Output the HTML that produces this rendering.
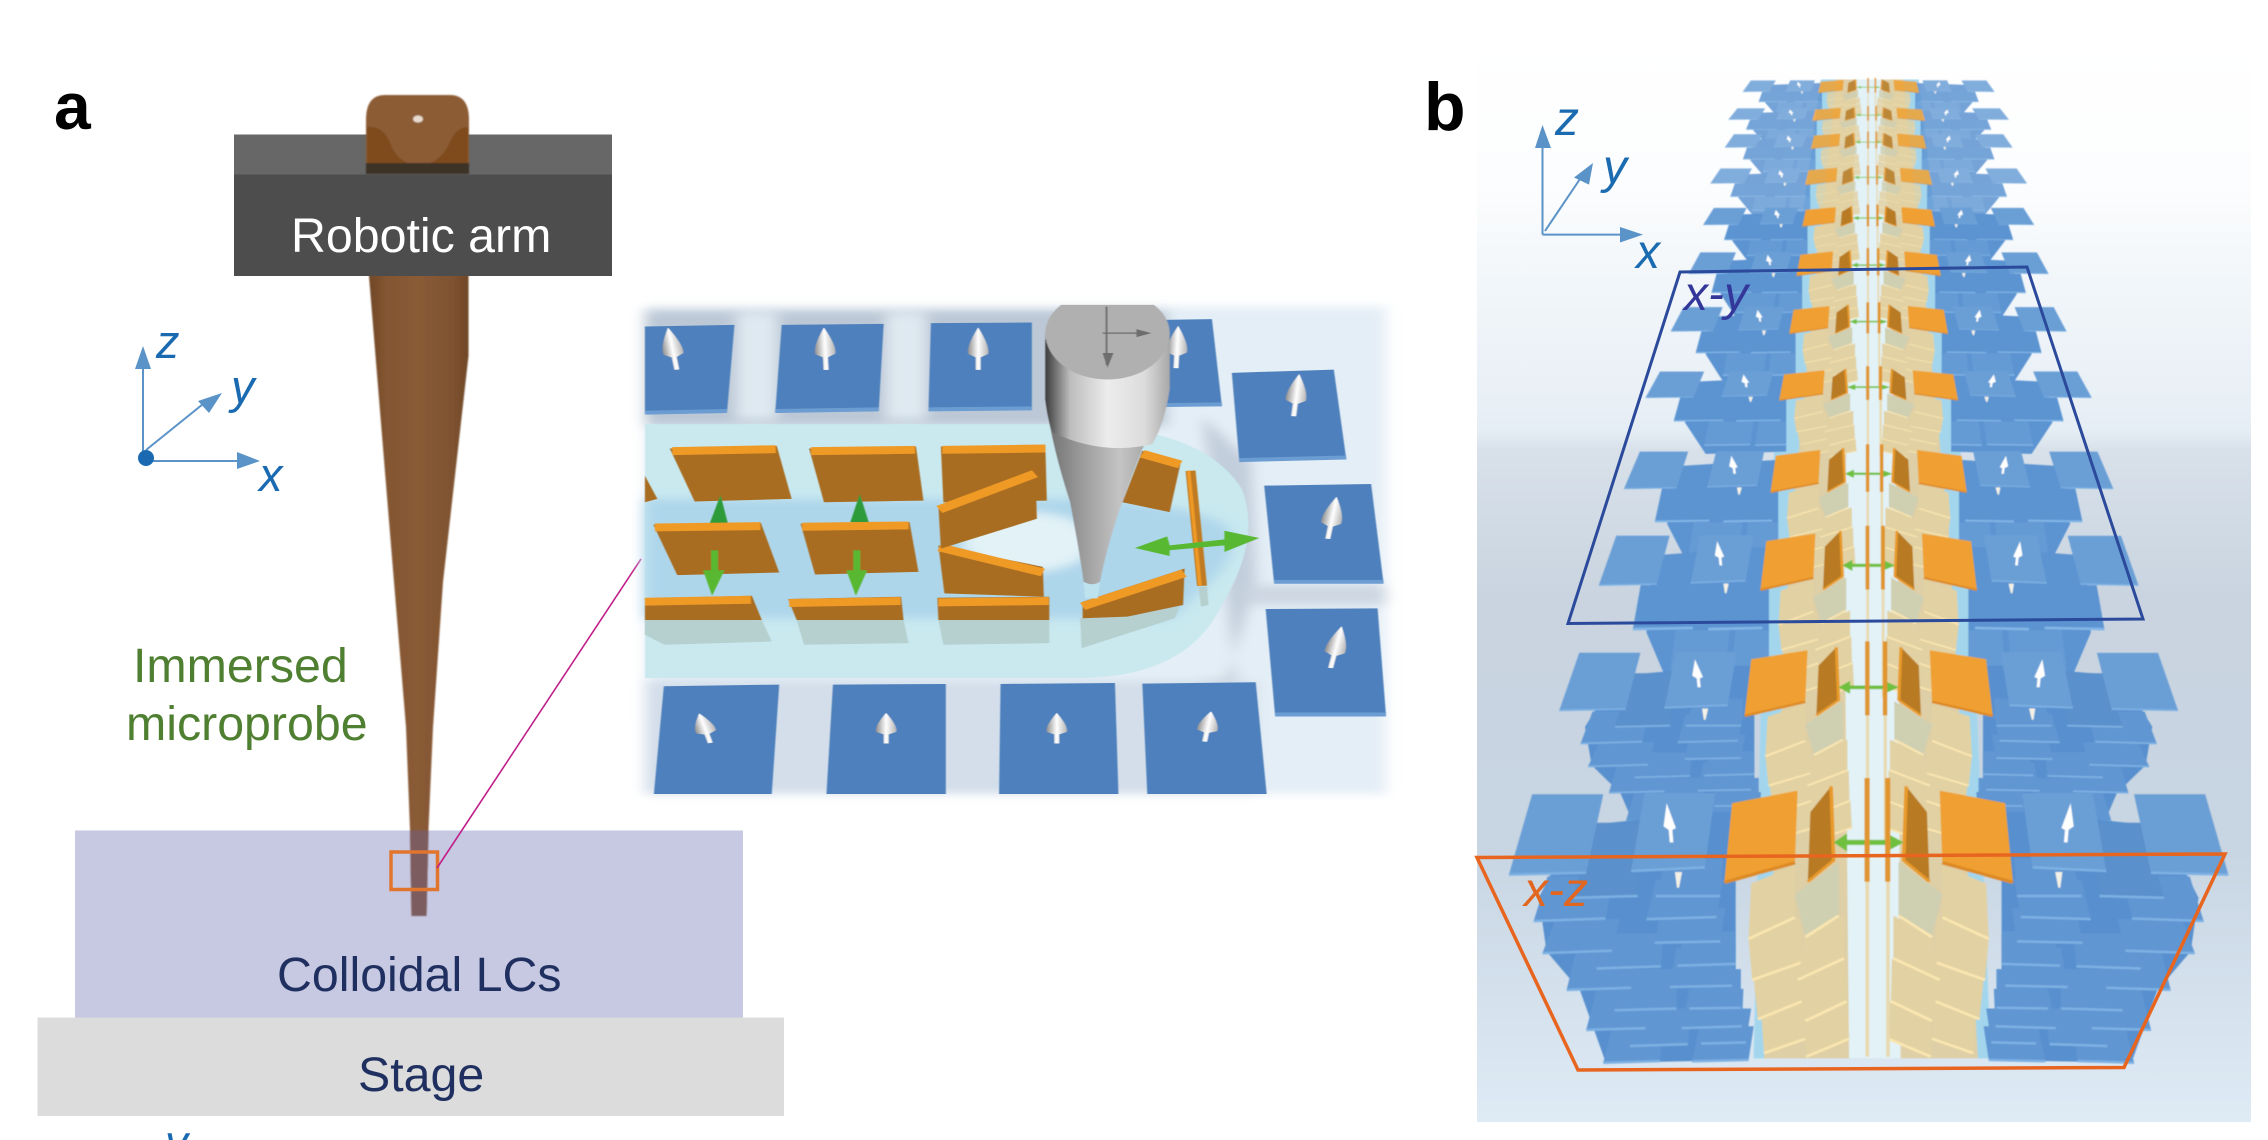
<!DOCTYPE html>
<html><head><meta charset="utf-8"><style>
html,body{margin:0;padding:0;background:#fff;width:2268px;height:1140px;overflow:hidden}
svg{display:block}
text{font-family:"Liberation Sans",sans-serif}
.b{fill:#6096d2}.bl{stroke:#7db1e3;stroke-width:7;fill:none}
.c{fill:#e2d1a3}.cl{stroke:#fae6b0;stroke-width:7;fill:none}
.blu{fill:#4e80bc}.blip{stroke:#6c9dd2;stroke-width:12;fill:none}
.or{fill:#a96d20}.orl{stroke:#f09a28;stroke-width:24;fill:none}
</style></head><body>
<svg width="2268" height="1140" viewBox="0 0 2268 1140" xmlns="http://www.w3.org/2000/svg">
<defs>
<filter id="s1" x="-5%" y="-5%" width="110%" height="110%"><feGaussianBlur stdDeviation="1.2"/></filter>
<filter id="s2" x="-10%" y="-10%" width="120%" height="120%"><feGaussianBlur stdDeviation="14"/></filter>
<filter id="s0" x="-5%" y="-5%" width="110%" height="110%"><feGaussianBlur stdDeviation="0.7"/></filter>
<filter id="s3" x="-5%" y="-5%" width="110%" height="110%"><feGaussianBlur stdDeviation="1.2"/></filter>
<clipPath id="toolclip"><rect x="800" y="45" width="320" height="900"/></clipPath>
<linearGradient id="probe" x1="0" x2="1" y1="0" y2="0"><stop offset="0" stop-color="#6f4727"/><stop offset=".18" stop-color="#845631"/><stop offset=".5" stop-color="#8a5b36"/><stop offset=".85" stop-color="#7e5230"/><stop offset="1" stop-color="#6f4727"/></linearGradient>
<linearGradient id="bgb" x1="0" x2="0" y1="0" y2="1">
<stop offset="0" stop-color="#ffffff"/><stop offset=".13" stop-color="#fcfdfe"/><stop offset=".24" stop-color="#f0f5f9"/><stop offset=".36" stop-color="#e6eef5"/><stop offset=".379" stop-color="#d8e1ea"/><stop offset=".517" stop-color="#c9d4e0"/><stop offset=".75" stop-color="#c8d5e2"/><stop offset=".89" stop-color="#d5e2ee"/><stop offset="1" stop-color="#deebf5"/></linearGradient>
<linearGradient id="cyl" x1="0" x2="1" y1="0" y2="0"><stop offset="0" stop-color="#3c3c3c"/><stop offset=".2" stop-color="#bdbdbd"/><stop offset=".5" stop-color="#ececec"/><stop offset=".8" stop-color="#dcdcdc"/><stop offset="1" stop-color="#a8a8a8"/></linearGradient>
<linearGradient id="con" x1="0" x2="1" y1="0" y2="0"><stop offset="0" stop-color="#6e6e6e"/><stop offset=".3" stop-color="#9c9c9c"/><stop offset=".6" stop-color="#c4c4c4"/><stop offset="1" stop-color="#8e8e8e"/></linearGradient>
<linearGradient id="cone" x1="0" x2="1" y1="0" y2="0"><stop offset="0" stop-color="#8f8f8f"/><stop offset=".5" stop-color="#ffffff"/><stop offset="1" stop-color="#b5b5b5"/></linearGradient>
<path id="ar" d="M0,-62 Q24,-5 20,18 L5,28 L5,66 L-5,66 L-5,28 L-20,18 Q-24,-5 0,-62Z" fill="url(#cone)"/>
<g id="cream">
<polygon class="c" points="-203,735 -123,695 -128,590 -208,630"/><path class="cl" d="M-203,735 -123,695"/>
<polygon class="c" points="-215,640 -121,585 -128,480 -223,530"/><path class="cl" d="M-215,640 -121,585"/>
<polygon class="c" points="-226,530 -128,480 -133,355 -233,415"/><path class="cl" d="M-226,530 -128,480"/>
<polygon class="c" points="-233,415 -143,355 -143,210 -228,260"/><path class="cl" d="M-233,415 -143,355"/>
<polygon class="c" points="-121,745 -38,695 -41,590 -123,645"/><path class="cl" d="M-121,745 -38,695"/>
<polygon class="c" points="-123,645 -43,590 -45,470 -138,530"/><path class="cl" d="M-123,645 -43,590"/>
<polygon class="c" points="-138,530 -48,470 -48,350 -123,410"/><path class="cl" d="M-138,530 -48,470"/>
<polygon fill="#cfcfb2" points="-143,290 -58,200 -58,350 -123,410"/><path class="cl" d="M-123,410 -58,350"/>
</g>
<g id="top">
<polygon fill="#6a9fd6" points="-653,10 -515,10 -548,230 -698,235"/><path class="bl" d="M-698,235 -548,230"/>
<polygon fill="#6a9fd6" points="-435,7 -298,7 -318,215 -461,225"/><path class="bl" d="M-461,225 -318,215"/>
<polygon fill="#fff" points="-392,35 -374,105 -381,110 -379,145 -386,145 -388,110 -398,100"/>
<polygon fill="#f4f1e6" points="-376,228 -362,228 -368,272 -372,272"/>
<polygon fill="#f0a030" points="-265,35 -138,0 -143,200 -280,255"/><path d="M-280,257 -143,202" stroke="#dd8a28" stroke-width="9" fill="none"/>
<polygon fill="#b87a24" points="-73,-12 -113,60 -118,255 -68,195"/><path d="M-73,-12 -68,195 -118,255" stroke="#e89a2c" stroke-width="7" fill="none"/>
</g>
<g id="mid">
<rect x="-6" y="255" width="7" height="490" fill="#e8d9ae"/><rect x="34" y="255" width="7" height="490" fill="#e8d9ae"/>
<path d="M-55,145 H55" stroke="#6fc040" stroke-width="14" fill="none"/>
<polygon fill="#6fc040" points="-68,145 -42,120 -42,170"/><polygon fill="#6fc040" points="68,145 42,125 42,165"/>
<rect x="-8" y="-35" width="10" height="290" fill="#e0952f"/><rect x="32" y="-35" width="10" height="290" fill="#e0952f"/>
</g>
<!-- front, detailed half row -->
<g id="rowL">
<use href="#cream"/>
<polygon fill="#5890cf" points="-570,100 -300,60 -258,60 -258,755 -510,762 -560,560 -625,450 -640,300"/>
<polygon class="b" points="-498,660 -398,660 -405,757 -515,762"/><path class="bl" d="M-515,762 -405,757"/>
<polygon class="b" points="-328,660 -223,660 -233,754 -343,758"/><path class="bl" d="M-343,758 -233,754"/>
<polygon class="b" points="-448,610 -343,610 -351,710 -463,715"/><path class="bl" d="M-463,715 -351,710"/>
<polygon class="b" points="-313,610 -228,610 -238,705 -325,708"/><path class="bl" d="M-325,708 -238,705"/>
<polygon class="b" points="-528,555 -423,555 -433,665 -548,670"/><path class="bl" d="M-548,670 -433,665"/>
<polygon class="b" points="-348,555 -243,555 -246,660 -363,665"/><path class="bl" d="M-363,665 -246,660"/>
<polygon class="b" points="-480,500 -373,500 -373,610 -493,615"/><path class="bl" d="M-493,615 -373,610"/>
<polygon class="b" points="-333,500 -248,500 -248,608 -348,610"/><path class="bl" d="M-348,610 -248,608"/>
<polygon class="b" points="-568,450 -453,450 -461,552 -586,558"/><path class="bl" d="M-586,558 -461,552"/>
<polygon class="b" points="-373,440 -258,440 -265,546 -386,550"/><path class="bl" d="M-386,550 -265,546"/>
<polygon class="b" points="-513,400 -398,400 -403,492 -528,498"/><path class="bl" d="M-528,498 -403,492"/>
<polygon class="b" points="-358,395 -258,395 -258,485 -371,490"/><path class="bl" d="M-371,490 -258,485"/>
<polygon class="b" points="-608,360 -483,360 -498,448 -633,455"/><path class="bl" d="M-633,455 -498,448"/>
<polygon class="b" points="-403,330 -278,330 -288,422 -415,426"/><path class="bl" d="M-415,426 -288,422"/>
<polygon class="b" points="-623,240 -493,240 -511,358 -650,365"/><path class="bl" d="M-650,365 -511,358"/>
<polygon class="b" points="-413,250 -283,250 -295,354 -431,360"/><path class="bl" d="M-431,360 -295,354"/>
<polygon fill="#5a90cb" points="-533,90 -433,90 -448,295 -573,300"/><path class="bl" d="M-573,300 -448,295"/>
<polygon class="b" points="-393,190 -283,190 -288,295 -413,295"/><path class="bl" d="M-413,295 -288,295"/>
<use href="#top"/>
</g>
<!-- rear, simplified half row with larger tiles -->
<g id="rowS">
<use href="#cream"/>
<polygon fill="#5b93d1" points="-560,100 -258,60 -258,700 -510,720 -575,450"/>
<polygon fill="#659bd5" points="-500,440 -360,440 -370,640 -515,645"/><path stroke="#83b6e6" stroke-width="12" fill="none" d="M-515,645 -370,640"/>
<polygon fill="#659bd5" points="-345,440 -258,440 -258,640 -355,645"/><path stroke="#83b6e6" stroke-width="12" fill="none" d="M-355,645 -258,640"/>
<polygon fill="#5c94d2" points="-590,235 -440,235 -455,430 -610,435"/><path stroke="#83b6e6" stroke-width="12" fill="none" d="M-610,435 -455,430"/>
<polygon fill="#5c94d2" points="-400,235 -265,235 -275,430 -415,435"/><path stroke="#83b6e6" stroke-width="12" fill="none" d="M-415,435 -275,430"/>
<use href="#top"/>
</g>
<g id="row"><use href="#rowL"/><use href="#rowL" transform="scale(-1,1)"/><use href="#mid"/></g>
<g id="rowR"><use href="#rowS"/><use href="#rowS" transform="scale(-1,1)"/><use href="#mid"/></g>
</defs>

<!-- Panel a -->
<text x="54" y="129" font-size="66" font-weight="bold" fill="#000">a</text>
<rect x="75" y="830.500" width="668" height="188" fill="#c7c8e2"/>
<rect x="37.500" y="1017.500" width="746.500" height="98.500" fill="#dcdcdc"/>
<rect x="234" y="134.500" width="378" height="40" fill="#676767"/>
<g filter="url(#s0)">
<path d="M366,120 Q366,95 385,95 L450,95 Q469,95 469,120 L469,173 L366,173Z" fill="#8c5c34"/>
<path d="M367,127 Q385,125 392,148 Q402,165 418,165 Q438,165 448,146 Q455,127 468,127 L468,165 L367,165Z" fill="#7f4c1e"/>
<rect x="366" y="163" width="103" height="11" fill="#3d3227"/>
<ellipse cx="418" cy="119" rx="5" ry="3.500" fill="#e8dccf"/>
<path d="M368.500,270 L468.500,270 L468.500,356 L443,582 L433,727 L428.500,829 L426.500,916 L411.500,916 L410,829 L406,727 L394,582Z" fill="url(#probe)"/>
<path d="M410,830.500 L428.500,830.500 L426.500,916 L411.500,916Z" fill="#7c5b5e"/>
</g>
<rect x="234" y="174.500" width="378" height="101.500" fill="#4d4d4d"/>
<rect x="391" y="852" width="46.500" height="37.500" fill="none" stroke="#e2752e" stroke-width="3.500"/>
<line x1="437" y1="868" x2="641" y2="559" stroke="#c0208a" stroke-width="1.600"/>
<text x="291" y="252" font-size="48.300" fill="#fff">Robotic arm</text>
<text x="133" y="682" font-size="48.300" fill="#4f7f31">Immersed</text>
<text x="126" y="740" font-size="48.300" fill="#4f7f31">microprobe</text>
<text x="277" y="991" font-size="48.300" fill="#1f2f5f">Colloidal LCs</text>
<text x="358" y="1091" font-size="48.300" fill="#1f2f5f">Stage</text>
<text x="165" y="1158" font-size="46" font-style="italic" fill="#1a6ab2">y</text>
<!-- axes a -->
<g stroke="#5a93c8" stroke-width="2" fill="none"><path d="M143,458 V365"/><path d="M146,450 L208,400"/><path d="M150,461 H240"/></g>
<polygon fill="#5a93c8" points="143,346 135,369 151,369"/>
<polygon fill="#5a93c8" points="222,393 198,401 209,413"/>
<polygon fill="#5a93c8" points="260,461 237,452 237,469"/>
<ellipse cx="146" cy="458" rx="8" ry="8" fill="#1a6ab2"/>
<text x="156" y="358" font-size="47" font-style="italic" fill="#1a6ab2">z</text>
<text x="231" y="403" font-size="47" font-style="italic" fill="#1a6ab2">y</text>
<text x="259" y="491" font-size="47" font-style="italic" fill="#1a6ab2">x</text>

<!-- Inset -->
<g transform="translate(630,290) scale(.4974,.3316)">
<g filter="url(#s2)">
<rect x="30" y="50" width="1490" height="1470" fill="#e4eef6"/>
<rect x="30" y="60" width="1050" height="350" fill="#bcc8d6"/>
<rect x="215" y="70" width="80" height="320" fill="#dfe9f1"/><rect x="515" y="70" width="80" height="320" fill="#dfe9f1"/>
<path d="M1150,380 L1250,520 L1260,880 L1200,1170 L1000,1200 L30,1200 L30,1300 L1230,1300 Z" fill="#c2cedb"/>
<rect x="30" y="1180" width="1230" height="340" fill="#d3deea"/>
<rect x="1240" y="890" width="280" height="60" fill="#cdd7e2"/>
</g>
<g filter="url(#s1)">
<path d="M30,405 L880,405 Q1150,410 1230,600 Q1270,750 1190,950 Q1120,1170 900,1170 L30,1170Z" fill="#c9e9ef"/>
</g>
<g filter="url(#s2)">
<path d="M30,630 L880,630 Q1100,630 1200,710 Q1230,780 1180,860 L1090,990 L30,990Z" fill="#aed6eb"/>
<ellipse cx="800" cy="760" rx="130" ry="90" fill="#e2f2f7"/>
</g>
<g filter="url(#s1)">
<!-- blue tiles -->
<polygon class="blu" points="30,110 210,105 195,370 30,375"/><path class="blip" d="M30,370 195,365"/>
<polygon class="blu" points="305,105 510,102 500,365 292,370"/><path class="blip" d="M292,365 500,360"/>
<polygon class="blu" points="605,100 808,98 808,362 600,365"/><path class="blip" d="M600,360 808,357"/>
<polygon class="blu" points="1070,90 1170,88 1190,350 1070,352"/><path class="blip" d="M1070,347 1190,345"/>
<polygon class="blu" points="1210,250 1415,240 1440,510 1225,518"/><path class="blip" d="M1225,513 1440,505"/>
<polygon class="blu" points="1275,590 1490,585 1515,885 1295,885"/><path class="blip" d="M1295,880 1515,880"/>
<polygon class="blu" points="1278,962 1503,960 1520,1285 1297,1285"/><path class="blip" d="M1297,1280 1520,1280"/>
<polygon class="blu" points="68,1195 300,1190 285,1520 48,1520"/>
<polygon class="blu" points="408,1190 635,1188 635,1520 395,1520"/>
<polygon class="blu" points="745,1188 975,1185 982,1520 742,1520"/>
<polygon class="blu" points="1030,1187 1258,1183 1280,1520 1040,1520"/>
<use href="#ar" transform="translate(85,175) rotate(-8)"/>
<use href="#ar" transform="translate(392,175) rotate(-2)"/>
<use href="#ar" transform="translate(700,175)"/>
<use href="#ar" transform="translate(1100,170) rotate(2)"/>
<use href="#ar" transform="translate(1340,315) rotate(5)"/>
<use href="#ar" transform="translate(1412,685) rotate(8)"/>
<use href="#ar" transform="translate(1420,1075) rotate(10)"/>
<use href="#ar" transform="translate(150,1320) rotate(-14) scale(1,.72)"/>
<use href="#ar" transform="translate(515,1320) scale(1,.72)"/>
<use href="#ar" transform="translate(858,1320) scale(1,.72)"/>
<use href="#ar" transform="translate(1162,1315) rotate(8) scale(1,.72)"/>
<!-- reflections -->
<g fill="#b6cfcf">
<polygon points="30,995 265,995 285,1060 70,1070 30,1040"/>
<polygon points="335,995 550,995 560,1065 350,1070"/>
<polygon points="620,995 843,995 843,1065 630,1070"/>
<polygon points="905,990 1105,955 1095,990 908,1080"/>
<polygon points="1143,895 1160,895 1163,950 1148,955"/>
</g>
<!-- orange -->
<polygon fill="#a96d20" points="30,560 55,630 30,640"/>
<polygon class="or" points="80,478 295,470 325,630 130,638"/><path class="orl" d="M85,486 293,480"/>
<polygon class="or" points="360,478 575,472 590,635 390,640"/><path class="orl" d="M364,486 573,482"/>
<polygon class="or" points="625,472 835,468 838,635 630,640"/><path class="orl" d="M628,482 835,478"/>
<polygon fill="#2f9b3a" points="160,705 182,618 197,705"/>
<polygon fill="#2f9b3a" points="443,700 462,615 480,700"/>
<polygon class="or" points="47,708 263,702 300,852 95,860"/><path class="orl" d="M50,716 262,712"/>
<polygon class="or" points="343,705 562,700 580,850 372,858"/><path class="orl" d="M346,714 560,710"/>
<polygon class="or" points="30,930 245,922 265,995 30,995"/><path class="orl" d="M30,940 243,934"/>
<polygon class="or" points="318,932 545,925 550,995 335,995"/><path class="orl" d="M320,944 544,938"/>
<polygon class="or" points="618,928 843,925 843,995 620,995"/><path class="orl" d="M620,942 842,938"/>
<polygon class="or" points="620,770 830,835 832,925 632,915"/><path class="orl" d="M622,776 830,852"/>
<polygon class="or" points="620,650 815,540 818,690 625,780"/><path class="orl" d="M622,662 814,554"/>
<polygon class="or" points="1030,485 1108,515 1085,670 990,640"/><path class="orl" d="M1030,494 1106,526"/>
<polygon class="or" points="910,940 1115,840 1112,950 1000,985 910,990"/><path class="orl" d="M910,954 1114,854"/>
<path d="M1127,545 L1150,892" stroke="#c07a20" stroke-width="20" fill="none"/>
<path d="M1123,545 L1146,892" stroke="#f09a28" stroke-width="7" fill="none"/>
<!-- green -->
<g fill="#58b832">
<rect x="163" y="785" width="14" height="70"/><polygon points="147,845 190,845 165,922"/>
<rect x="449" y="785" width="14" height="70"/><polygon points="435,845 477,845 454,922"/>
<polygon points="1015,778 1080,743 1085,770 1195,752 1195,726 1265,748 1195,790 1195,770 1085,785 1085,802"/>
</g>
<!-- tool -->
<g clip-path="url(#toolclip)">
<path d="M835,130 L835,330 Q850,480 885,640 Q905,800 912,880 Q930,895 945,880 Q965,720 1030,480 L1085,300 L1085,130Z" fill="url(#con)"/>
<path d="M835,150 L835,330 Q840,395 850,430 Q950,500 1050,465 Q1075,400 1085,300 L1085,150Z" fill="url(#cyl)"/>
<path d="M912,880 Q930,895 945,880 L940,930 L915,930Z" fill="#bfe3ee"/>
<path d="M835,130 A125,128 0 0 1 1085,130 A125,140 0 0 1 835,130Z" fill="#b0b0b0"/>
<g stroke="#6d6d6d" stroke-width="4" fill="none"><path d="M958,50 V225"/><path d="M950,130 H1020"/></g>
<polygon fill="#6d6d6d" points="1048,130 1018,118 1018,142"/><polygon fill="#6d6d6d" points="960,235 950,190 972,190"/>
</g>
</g>
</g>

<!-- Panel b -->
<rect x="1477" y="40" width="774" height="1082" fill="url(#bgb)"/>
<g transform="translate(1460,40) scale(.5153,.3571)" filter="url(#s3)">
<polygon fill="#a3d6ed" points="700,110 890,110 930,600 990,1400 1030,2852 570,2852 590,1400 655,600"/>
<polygon fill="#dfcfa6" points="730,110 860,110 950,1400 1005,2852 590,2852 640,1400"/>
<polygon fill="#e2f2f7" points="770,110 820,110 850,1400 855,2852 755,2852 745,1400"/>
<g opacity=".85">
<use href="#rowR" transform="translate(793,112) scale(.35,.14)"/>
<use href="#rowR" transform="translate(793,190) scale(.39,.14)"/>
<use href="#rowR" transform="translate(793,262) scale(.40,.165)"/>
<use href="#rowR" transform="translate(793,358) scale(.44,.185)"/>
</g>
<use href="#rowR" transform="translate(793,468) scale(.46,.21)"/>
<use href="#rowR" transform="translate(793,592) scale(.50,.265)"/>
<use href="#rowR" transform="translate(793,745) scale(.55,.30)"/>
<use href="#rowR" transform="translate(793,925) scale(.62,.325)"/>
<use href="#rowR" transform="translate(793,1148) scale(.68,.46)"/>
<use href="#rowR" transform="translate(793,1382) scale(.75,.615)"/>
<use href="#row" transform="translate(793,1709) scale(.86,.715)"/>
<use href="#row" transform="translate(793,2102) scale(1,1)"/>
</g>
<polygon points="1680,272 2027,267 2143,619 1568,623.500" fill="none" stroke="#2b4a9b" stroke-width="3"/>
<polygon points="1477,857.500 2225,854 2124,1067.500 1578,1070" fill="none" stroke="#e8651f" stroke-width="3.500"/>
<text x="1684" y="310" font-size="48" font-style="italic" fill="#33379a">x-y</text>
<text x="1524" y="906" font-size="48" font-style="italic" fill="#e2661f">x-z</text>
<text x="1424" y="130" font-size="68" font-weight="bold" fill="#000">b</text>
<g stroke="#5a93c8" stroke-width="2" fill="none"><path d="M1542.500,234.600 V145"/><path d="M1545,231 L1582,176"/><path d="M1542.500,234.600 H1622"/></g>
<polygon fill="#5a93c8" points="1542.500,125 1535,148 1551,148"/>
<polygon fill="#5a93c8" points="1593,163 1574,177.500 1589,184.600"/>
<polygon fill="#5a93c8" points="1643,234.600 1620,227 1620,242.500"/>
<text x="1555" y="135" font-size="48" font-style="italic" fill="#1a6bb0">z</text>
<text x="1603" y="183" font-size="48" font-style="italic" fill="#1a6bb0">y</text>
<text x="1636" y="268" font-size="48" font-style="italic" fill="#1a6bb0">x</text>
</svg>
</body></html>
